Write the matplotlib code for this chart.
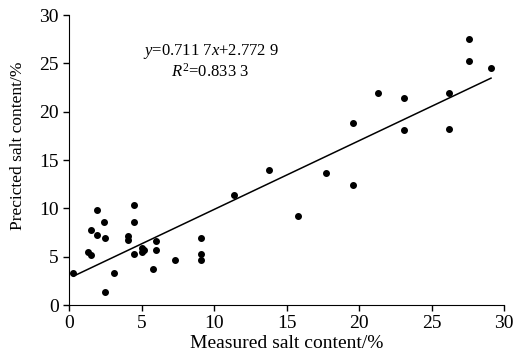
import matplotlib.pyplot as plt
import numpy as np

plt.rcParams['font.family'] = ['Liberation Serif', 'DejaVu Serif']
plt.rcParams['mathtext.fontset'] = 'custom'
plt.rcParams['mathtext.it'] = 'Liberation Serif:italic'
plt.rcParams['mathtext.rm'] = 'Liberation Serif'

# measured vs predicted salt content (%)
measured = [0.3, 1.3, 1.5, 1.5, 1.9, 1.9, 2.4, 2.5, 2.5, 3.1, 4.1, 4.1,
            4.5, 4.5, 4.5, 5.0, 5.0, 5.2, 6.0, 6.0, 5.8, 7.3, 9.1, 9.1,
            9.1, 11.4, 13.8, 15.8, 17.7, 19.6, 19.6, 21.3, 23.1, 23.1,
            26.2, 26.2, 27.6, 27.6, 29.1]
predicted = [3.3, 5.5, 5.2, 7.8, 9.8, 7.2, 8.6, 6.9, 1.4, 3.3, 7.1, 6.7,
             10.4, 8.6, 5.3, 5.9, 5.5, 5.7, 6.6, 5.7, 3.7, 4.7, 6.9, 5.3,
             4.7, 11.4, 14.0, 9.2, 13.7, 12.4, 18.8, 21.9, 21.4, 18.1,
             21.9, 18.2, 27.5, 25.3, 24.5]

slope = 0.7117
intercept = 2.7729

fig = plt.figure(figsize=(5.17, 3.61), dpi=100)
ax = fig.add_axes([0.1335, 0.155, 0.8415, 0.803])

ax.scatter(measured, predicted, s=16, color='black', zorder=3)

xs = np.array([min(measured), max(measured)])
ax.plot(xs, slope * xs + intercept, color='black', linewidth=1.1)

ax.text(9.75, 26.2, r'$y$=0.711 7$x$+2.772 9', ha='center', va='center', fontsize=12)
ax.text(9.75, 24.1, r'$R^2$=0.833 3', ha='center', va='center', fontsize=12)

ax.set_xlim(0, 30)
ax.set_ylim(0, 30)
ax.set_xticks(range(0, 31, 5))
ax.set_yticks(range(0, 31, 5))
ax.spines['top'].set_visible(False)
ax.spines['right'].set_visible(False)
ax.tick_params(direction='out', length=4, width=1, labelsize=14, colors='black')
ax.set_xlabel('Measured salt content/%', fontsize=14, labelpad=2)
ax.set_ylabel('Precicted salt content/%', fontsize=12.5)
ax.yaxis.set_label_coords(-0.098, 0.548)

fig.savefig('out.png', dpi=100)
